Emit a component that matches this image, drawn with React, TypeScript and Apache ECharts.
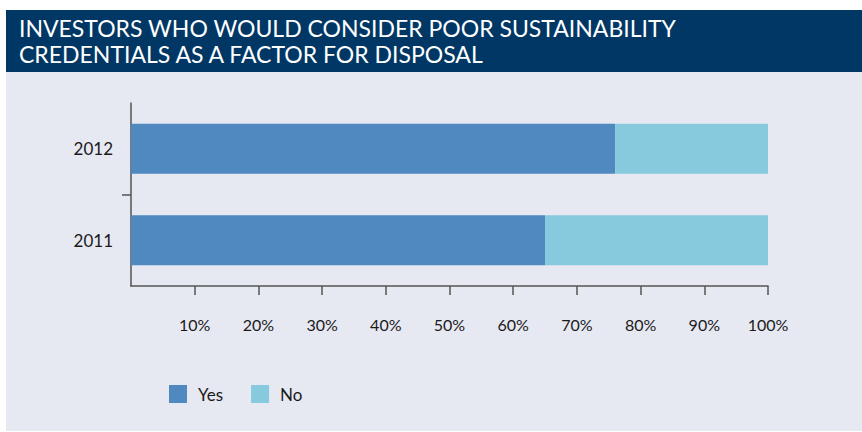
import React, { useEffect, useRef } from "react";
import * as echarts from "echarts";

const titleLines = ["INVESTORS WHO WOULD CONSIDER POOR SUSTAINABILITY", "CREDENTIALS AS A FACTOR FOR DISPOSAL"];
const years = ["2011", "2012"];
const yesValues = [65, 76];
const noValues = [35, 24];
const seriesNames = ["Yes", "No"];
const tickValues = [10, 20, 30, 40, 50, 60, 70, 80, 90, 100];

const FONT = "Lato, 'Open Sans', sans-serif";
const AXIS_COLOR = "#555555";

export default function App() {
  const ref = useRef<HTMLDivElement>(null);
  useEffect(() => {
    document.body.style.margin = "0";
    const chart = echarts.init(ref.current!, null, { renderer: "svg" });
    chart.setOption({
      animation: false,
      graphic: [
        { type: "rect", z: -10, shape: { x: 6, y: 10, width: 856, height: 62 }, style: { fill: "#003764" }, silent: true },
        { type: "rect", z: -10, shape: { x: 6, y: 72, width: 856, height: 359 }, style: { fill: "#e6e8f2" }, silent: true },
      ],
      title: {
        text: titleLines.join("\n"),
        left: 19,
        top: 15,
        padding: 0,
        textStyle: { color: "#ffffff", fontFamily: FONT, fontSize: 23, fontWeight: "normal", lineHeight: 26 },
      },
      legend: {
        left: 169,
        top: 385,
        padding: 0,
        itemWidth: 18,
        itemHeight: 18,
        itemGap: 28,
        icon: "rect",
        textStyle: { fontFamily: FONT, fontSize: 17, color: "#1a1a1a", padding: [0, 0, 0, 6] },
        data: seriesNames,
      },
      grid: { left: 131, right: 94, top: 103, bottom: 146, containLabel: false },
      xAxis: {
        type: "value",
        min: 0,
        max: 100,
        interval: 10,
        splitLine: { show: false },
        axisLine: { show: true, lineStyle: { color: AXIS_COLOR, width: 1.5 } },
        axisTick: { show: true, length: 9, customValues: tickValues, lineStyle: { color: AXIS_COLOR, width: 1.5 } },
        axisLabel: {
          customValues: tickValues,
          formatter: (v: number) => `${v}%`,
          margin: 30,
          fontFamily: FONT,
          fontSize: 16,
          color: "#1a1a1a",
        },
      },
      yAxis: [
        {
          type: "category",
          data: years,
          axisLine: { show: true, lineStyle: { color: AXIS_COLOR, width: 1.5 } },
          axisTick: { show: false },
          axisLabel: { margin: 18, fontFamily: FONT, fontSize: 17, color: "#1a1a1a" },
        },
        {
          type: "value",
          position: "left",
          min: 0,
          max: 2,
          interval: 1,
          splitLine: { show: false },
          axisLine: { show: false },
          axisLabel: { show: false },
          axisTick: { show: true, length: 9, customValues: [1], lineStyle: { color: AXIS_COLOR, width: 1.5 } },
        },
      ],
      series: [
        { name: seriesNames[0], type: "bar", stack: "t", data: yesValues, barWidth: 50, itemStyle: { color: "#4f89bf" } },
        { name: seriesNames[1], type: "bar", stack: "t", data: noValues, barWidth: 50, itemStyle: { color: "#87c9dd" } },
      ],
    });
    return () => chart.dispose();
  }, []);
  return <div ref={ref} style={{ width: 862, height: 432 }} />;
}
